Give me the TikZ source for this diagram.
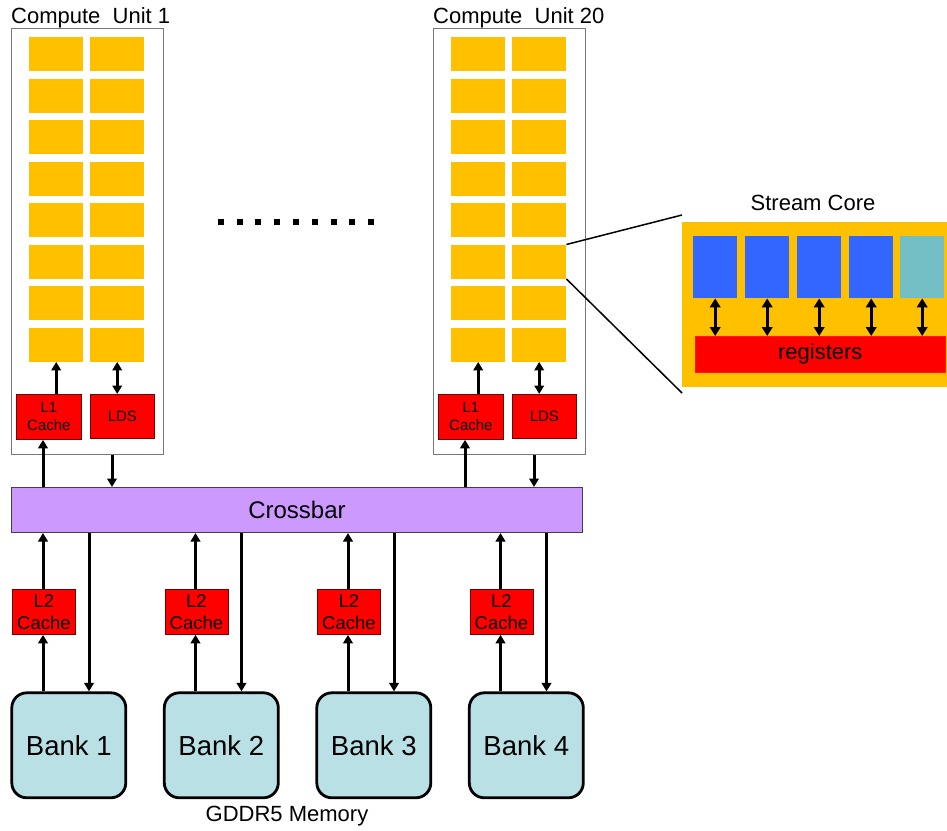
\documentclass[tikz,border=0pt]{standalone}
\usepackage{fontspec}
\setmainfont{Liberation Sans}
\usetikzlibrary{arrows.meta,calc}

\definecolor{coreyellow}{RGB}{255,192,0}
\definecolor{cachered}{RGB}{255,0,0}
\definecolor{cacheedge}{RGB}{110,0,0}
\definecolor{xbarfill}{RGB}{204,153,255}
\definecolor{xbaredge}{RGB}{64,64,64}
\definecolor{bankfill}{RGB}{185,224,228}
\definecolor{alublue}{RGB}{51,102,255}
\definecolor{aluteal}{RGB}{115,190,197}
\definecolor{cuedge}{RGB}{120,120,120}

\tikzset{
  fs/.style 2 args={font=\fontsize{#1}{#2}\selectfont},
  cubox/.style={draw=cuedge, line width=1.1pt, fill=white, anchor=north west, inner sep=0pt},
  cell/.style={fill=coreyellow, anchor=north west, inner sep=0pt,
               minimum width=54pt, minimum height=34pt},
  cachebox/.style={fill=cachered, draw=cacheedge, line width=0.8pt, anchor=north west,
               inner sep=0pt, align=center},
  bankbox/.style={fill=bankfill, draw=black, line width=2.8pt, rounded corners=15pt,
               anchor=north west, inner sep=0pt, minimum width=114pt, minimum height=105pt,
               fs={27.5}{32}},
  alu/.style={anchor=north west, inner sep=0pt, minimum width=44pt, minimum height=62pt},
  arr/.style={line width=3pt, -{Triangle[length=8.5pt,width=9.5pt]}},
  darr/.style={line width=3pt, {Triangle[length=8.5pt,width=9.5pt]}-{Triangle[length=8.5pt,width=9.5pt]}},
  sdarr/.style={line width=3pt, {Triangle[length=9pt,width=10.5pt]}-{Triangle[length=9pt,width=10.5pt]}},
  zoomline/.style={line width=1.5pt},
  dot/.style={fill=black, minimum size=6pt, inner sep=0pt},
  title/.style={anchor=base west, inner sep=0pt, fs={22}{26}},
}

\begin{document}
\begin{tikzpicture}[x=1pt, y=-1pt]
\useasboundingbox (0,0) rectangle (947,830);

% ---- compute units (second one is shifted by 422) ----
\foreach \cu/\dx/\lbl in {A/0/1, B/422/20}{
  \node[title] (title\cu) at (11+\dx,23) {Compute\ \ Unit \lbl};
  \node[cubox, minimum width=152pt, minimum height=426pt] (cu\cu) at (11+\dx,28) {};
  \foreach \r in {1,...,8}{
    \node[cell] (cell\cu-\r-1) at (29+\dx,{37+41.5*(\r-1)}) {};
    \node[cell] (cell\cu-\r-2) at (90+\dx,{37+41.5*(\r-1)}) {};
  }
  \node[cachebox, minimum width=65pt, minimum height=45pt, fs={15}{18}] (lone\cu) at (16+\dx,394)
       {L1\\Cache};
  \node[cachebox, minimum width=64pt, minimum height=44pt, fs={15}{18}] (lds\cu) at (90+\dx,394) {LDS};
  \coordinate (up\cu) at (43+\dx,0);
  \coordinate (dn\cu) at (112+\dx,0);
}

% ---- crossbar ----
\node[fill=xbarfill, draw=xbaredge, line width=1pt, anchor=north west, inner sep=0pt,
      minimum width=571pt, minimum height=45pt, fs={24}{28}] (xbar) at (11,487) {Crossbar};

\foreach \cu in {A,B}{
  \draw[arr] (cell\cu-8-1.south |- lone\cu.north) -- (cell\cu-8-1.south);
  \draw[darr] (cell\cu-8-2.south |- lds\cu.north) -- (cell\cu-8-2.south);
  \draw[arr] (up\cu |- xbar.north) -- (up\cu |- lone\cu.south);
  \draw[arr] (dn\cu |- cu\cu.south) -- (dn\cu |- xbar.north);
}

% ---- ellipsis between the compute units ----
\foreach \k in {0,...,8}{
  \node[dot] (dot\k) at ({220.7+18.8*\k},222) {};
}

% ---- L2 caches and memory banks ----
\foreach \i in {1,...,4}{
  \pgfmathsetmacro{\o}{152.5*(\i-1)}
  \node[cachebox, minimum width=63pt, minimum height=45pt, fs={18.5}{22}] (ltwo\i) at (12+\o,589)
       {L2\\Cache};
  \node[bankbox] (bank\i) at (10.4+\o,691.4) {Bank \i};
  \coordinate (bup\i) at (43+\o,0);
  \coordinate (bdn\i) at (89+\o,0);
  \draw[arr] (bup\i |- bank\i.north) -- (bup\i |- ltwo\i.south);
  \draw[arr] (bup\i |- ltwo\i.north) -- (bup\i |- xbar.south);
  \draw[arr] (bdn\i |- xbar.south) -- (bdn\i |- bank\i.north);
}

\node[fs={22}{26}, inner sep=0pt] (gddr) at (287,816) {GDDR5 Memory};

% ---- stream core detail ----
\node[fs={22}{26}, inner sep=0pt] (sctitle) at (813,203) {Stream Core};
\node[fill=coreyellow, anchor=north west, inner sep=0pt, minimum width=265pt,
      minimum height=165pt] (score) at (682,222) {};
\foreach \j in {1,...,4}{
  \node[alu, fill=alublue] (alu\j) at ({693+52*(\j-1)},236) {};
}
\node[alu, fill=aluteal] (alu5) at (900,236) {};
\node[fill=cachered, draw=red!80!orange, line width=0.6pt, anchor=north west, inner sep=0pt,
      minimum width=250pt, minimum height=36pt, fs={22}{26}] (regs) at (695,336) {registers};
\foreach \j in {1,...,5}{
  \draw[sdarr] (alu\j.south) -- (alu\j.south |- regs.north);
}

\coordinate (zoomtop) at (682,215);
\coordinate (zoombot) at (682,393);
\draw[zoomline] (cellB-6-2.north east) -- (zoomtop);
\draw[zoomline] (cellB-6-2.south east) -- (zoombot);
\end{tikzpicture}
\end{document}
